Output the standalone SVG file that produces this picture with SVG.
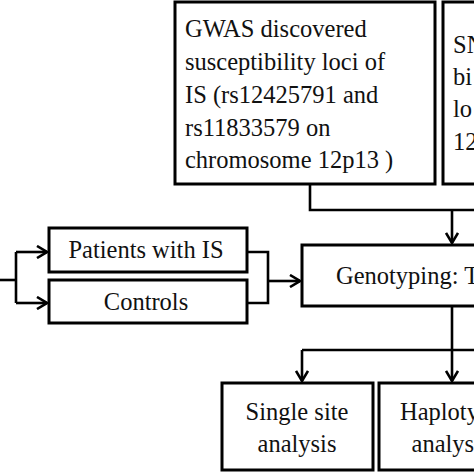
<svg xmlns="http://www.w3.org/2000/svg" width="474" height="474" viewBox="0 0 474 474">
<style>
.box{fill:#fff;stroke:#000;stroke-width:3}
.t{font-family:"Liberation Serif","Times New Roman",serif;font-size:24.5px;fill:#111}
.c{fill:none;stroke:#000;stroke-width:2.6}
</style>
<defs>
<marker id="ar" viewBox="0 0 12 14" refX="11" refY="7" markerWidth="12" markerHeight="14" markerUnits="userSpaceOnUse" orient="auto">
<path d="M1,1 L11,7 L1,13" fill="none" stroke="#000" stroke-width="2.6"/>
</marker>
</defs>
<rect width="474" height="474" fill="#fff"/>
<g id="connectors">
<path class="c" d="M310,184 V210 H480"/>
<path class="c" d="M452,210 V243" marker-end="url(#ar)"/>
<path class="c" d="M0,280 H16"/>
<path class="c" d="M16,252 V303"/>
<path class="c" d="M16,252 H47" marker-end="url(#ar)"/>
<path class="c" d="M16,303 H47" marker-end="url(#ar)"/>
<path class="c" d="M247,252 H268 V303 H247"/>
<path class="c" d="M268,281 H300" marker-end="url(#ar)"/>
<path class="c" d="M452,306 V381" marker-end="url(#ar)"/>
<path class="c" d="M302,350 H480"/>
<path class="c" d="M302,350 V381" marker-end="url(#ar)"/>
</g>
<g id="gwas">
<rect class="box" x="175" y="2" width="260" height="182"/>
<text class="t" x="185" y="37">GWAS discovered</text>
<text class="t" x="185" y="70">susceptibility loci of</text>
<text class="t" x="185" y="103">IS (rs12425791 and</text>
<text class="t" x="185" y="136">rs11833579 on</text>
<text class="t" x="185" y="168">chromosome 12p13 )</text>
</g>
<g id="snp">
<rect class="box" x="443" y="2" width="60" height="182"/>
<text class="t" x="453" y="53">SN</text>
<text class="t" x="453" y="85">bi</text>
<text class="t" x="453" y="117">lo</text>
<text class="t" x="453" y="150">12</text>
</g>
<g id="patients">
<rect class="box" x="49" y="228" width="198" height="44"/>
<text class="t" x="146" y="258" text-anchor="middle">Patients with IS</text>
</g>
<g id="controls">
<rect class="box" x="49" y="280" width="198" height="43"/>
<text class="t" x="146" y="310" text-anchor="middle">Controls</text>
</g>
<g id="genotyping">
<rect class="box" x="302" y="245" width="200" height="61"/>
<text class="t" x="336" y="284">Genotyping: T</text>
</g>
<g id="single">
<rect class="box" x="222" y="383" width="151" height="87"/>
<text class="t" x="297" y="420" text-anchor="middle">Single site</text>
<text class="t" x="297" y="452" text-anchor="middle">analysis</text>
</g>
<g id="haplotype">
<rect class="box" x="379" y="383" width="150" height="87"/>
<text class="t" x="451" y="420" text-anchor="middle">Haplotype</text>
<text class="t" x="451" y="452" text-anchor="middle">analysis</text>
</g>
</svg>
